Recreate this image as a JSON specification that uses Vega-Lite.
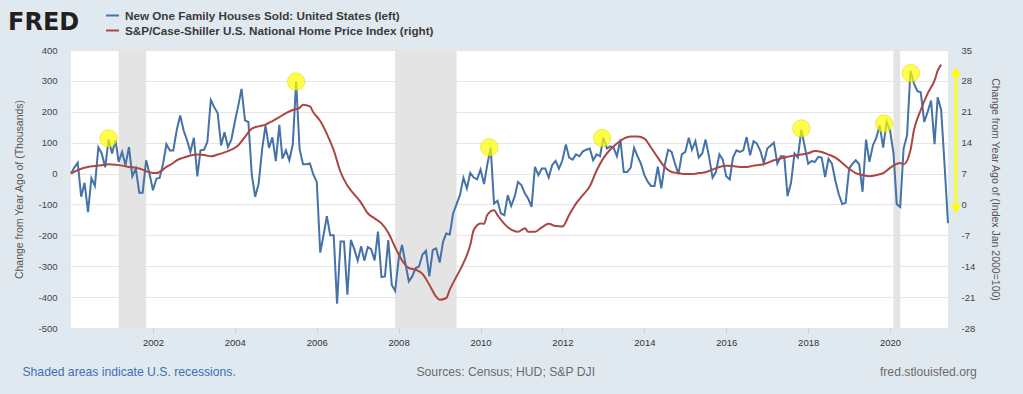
{
  "$schema": "https://vega.github.io/schema/vega-lite/v6.json",
  "width": 877,
  "height": 278,
  "autosize": {"type": "none"},
  "padding": {"left": 71, "top": 50, "right": 75, "bottom": 66},
  "background": "#e1e9f0",
  "config": {
    "font": "Liberation Sans",
    "view": {"fill": "#ffffff", "stroke": null}
  },
  "datasets": {
    "sold": [
      {"d":"2000-01-01","v":0},{"d":"2000-02-01","v":20},{"d":"2000-03-01","v":35},{"d":"2000-04-01","v":-75},{"d":"2000-05-01","v":-30},{"d":"2000-06-01","v":-125},{"d":"2000-07-01","v":-15},{"d":"2000-08-01","v":-40},{"d":"2000-09-01","v":85},{"d":"2000-10-01","v":65},{"d":"2000-11-01","v":20},{"d":"2000-12-01","v":110},
      {"d":"2001-01-01","v":65},{"d":"2001-02-01","v":108},{"d":"2001-03-01","v":38},{"d":"2001-04-01","v":70},{"d":"2001-05-01","v":27},{"d":"2001-06-01","v":86},{"d":"2001-07-01","v":-9},{"d":"2001-08-01","v":16},{"d":"2001-09-01","v":-62},{"d":"2001-10-01","v":-62},{"d":"2001-11-01","v":43},{"d":"2001-12-01","v":0},
      {"d":"2002-01-01","v":-54},{"d":"2002-02-01","v":-16},{"d":"2002-03-01","v":-14},{"d":"2002-04-01","v":32},{"d":"2002-05-01","v":95},{"d":"2002-06-01","v":75},{"d":"2002-07-01","v":75},{"d":"2002-08-01","v":140},{"d":"2002-09-01","v":188},{"d":"2002-10-01","v":140},{"d":"2002-11-01","v":108},{"d":"2002-12-01","v":70},
      {"d":"2003-01-01","v":116},{"d":"2003-02-01","v":-9},{"d":"2003-03-01","v":75},{"d":"2003-04-01","v":77},{"d":"2003-05-01","v":102},{"d":"2003-06-01","v":238},{"d":"2003-07-01","v":215},{"d":"2003-08-01","v":196},{"d":"2003-09-01","v":91},{"d":"2003-10-01","v":134},{"d":"2003-11-01","v":86},{"d":"2003-12-01","v":110},
      {"d":"2004-01-01","v":167},{"d":"2004-02-01","v":220},{"d":"2004-03-01","v":274},{"d":"2004-04-01","v":172},{"d":"2004-05-01","v":167},{"d":"2004-06-01","v":-5},{"d":"2004-07-01","v":-75},{"d":"2004-08-01","v":-32},{"d":"2004-09-01","v":80},{"d":"2004-10-01","v":156},{"d":"2004-11-01","v":83},{"d":"2004-12-01","v":117},
      {"d":"2005-01-01","v":40},{"d":"2005-02-01","v":158},{"d":"2005-03-01","v":48},{"d":"2005-04-01","v":75},{"d":"2005-05-01","v":43},{"d":"2005-06-01","v":94},{"d":"2005-07-01","v":297},{"d":"2005-08-01","v":78},{"d":"2005-09-01","v":30},{"d":"2005-10-01","v":30},{"d":"2005-11-01","v":33},{"d":"2005-12-01","v":-3},
      {"d":"2006-01-01","v":-27},{"d":"2006-02-01","v":-256},{"d":"2006-03-01","v":-202},{"d":"2006-04-01","v":-138},{"d":"2006-05-01","v":-200},{"d":"2006-06-01","v":-200},{"d":"2006-07-01","v":-421},{"d":"2006-08-01","v":-220},{"d":"2006-09-01","v":-220},{"d":"2006-10-01","v":-392},{"d":"2006-11-01","v":-215},{"d":"2006-12-01","v":-244},
      {"d":"2007-01-01","v":-282},{"d":"2007-02-01","v":-235},{"d":"2007-03-01","v":-282},{"d":"2007-04-01","v":-238},{"d":"2007-05-01","v":-245},{"d":"2007-06-01","v":-281},{"d":"2007-07-01","v":-188},{"d":"2007-08-01","v":-335},{"d":"2007-09-01","v":-333},{"d":"2007-10-01","v":-215},{"d":"2007-11-01","v":-361},{"d":"2007-12-01","v":-380},
      {"d":"2008-01-01","v":-278},{"d":"2008-02-01","v":-231},{"d":"2008-03-01","v":-290},{"d":"2008-04-01","v":-349},{"d":"2008-05-01","v":-333},{"d":"2008-06-01","v":-306},{"d":"2008-07-01","v":-301},{"d":"2008-08-01","v":-262},{"d":"2008-09-01","v":-250},{"d":"2008-10-01","v":-333},{"d":"2008-11-01","v":-247},{"d":"2008-12-01","v":-242},
      {"d":"2009-01-01","v":-288},{"d":"2009-02-01","v":-220},{"d":"2009-03-01","v":-194},{"d":"2009-04-01","v":-197},{"d":"2009-05-01","v":-129},{"d":"2009-06-01","v":-99},{"d":"2009-07-01","v":-70},{"d":"2009-08-01","v":-14},{"d":"2009-09-01","v":-48},{"d":"2009-10-01","v":2},{"d":"2009-11-01","v":-13},{"d":"2009-12-01","v":-19},
      {"d":"2010-01-01","v":13},{"d":"2010-02-01","v":-34},{"d":"2010-03-01","v":27},{"d":"2010-04-01","v":84},{"d":"2010-05-01","v":-97},{"d":"2010-06-01","v":-88},{"d":"2010-07-01","v":-129},{"d":"2010-08-01","v":-135},{"d":"2010-09-01","v":-70},{"d":"2010-10-01","v":-105},{"d":"2010-11-01","v":-75},{"d":"2010-12-01","v":-27},
      {"d":"2011-01-01","v":-38},{"d":"2011-02-01","v":-65},{"d":"2011-03-01","v":-81},{"d":"2011-04-01","v":-108},{"d":"2011-05-01","v":22},{"d":"2011-06-01","v":-5},{"d":"2011-07-01","v":16},{"d":"2011-08-01","v":16},{"d":"2011-09-01","v":-13},{"d":"2011-10-01","v":27},{"d":"2011-11-01","v":41},{"d":"2011-12-01","v":16},
      {"d":"2012-01-01","v":43},{"d":"2012-02-01","v":94},{"d":"2012-03-01","v":52},{"d":"2012-04-01","v":45},{"d":"2012-05-01","v":62},{"d":"2012-06-01","v":56},{"d":"2012-07-01","v":72},{"d":"2012-08-01","v":77},{"d":"2012-09-01","v":81},{"d":"2012-10-01","v":43},{"d":"2012-11-01","v":62},{"d":"2012-12-01","v":56},
      {"d":"2013-01-01","v":116},{"d":"2013-02-01","v":81},{"d":"2013-03-01","v":88},{"d":"2013-04-01","v":84},{"d":"2013-05-01","v":56},{"d":"2013-06-01","v":110},{"d":"2013-07-01","v":5},{"d":"2013-08-01","v":5},{"d":"2013-09-01","v":19},{"d":"2013-10-01","v":83},{"d":"2013-11-01","v":56},{"d":"2013-12-01","v":32},
      {"d":"2014-01-01","v":-5},{"d":"2014-02-01","v":-27},{"d":"2014-03-01","v":-40},{"d":"2014-04-01","v":-40},{"d":"2014-05-01","v":22},{"d":"2014-06-01","v":-48},{"d":"2014-07-01","v":27},{"d":"2014-08-01","v":77},{"d":"2014-09-01","v":70},{"d":"2014-10-01","v":32},{"d":"2014-11-01","v":-2},{"d":"2014-12-01","v":62},
      {"d":"2015-01-01","v":70},{"d":"2015-02-01","v":116},{"d":"2015-03-01","v":77},{"d":"2015-04-01","v":105},{"d":"2015-05-01","v":52},{"d":"2015-06-01","v":65},{"d":"2015-07-01","v":110},{"d":"2015-08-01","v":54},{"d":"2015-09-01","v":-13},{"d":"2015-10-01","v":5},{"d":"2015-11-01","v":62},{"d":"2015-12-01","v":45},
      {"d":"2016-01-01","v":-9},{"d":"2016-02-01","v":-19},{"d":"2016-03-01","v":52},{"d":"2016-04-01","v":75},{"d":"2016-05-01","v":70},{"d":"2016-06-01","v":75},{"d":"2016-07-01","v":118},{"d":"2016-08-01","v":59},{"d":"2016-09-01","v":105},{"d":"2016-10-01","v":97},{"d":"2016-11-01","v":73},{"d":"2016-12-01","v":34},
      {"d":"2017-01-01","v":81},{"d":"2017-02-01","v":91},{"d":"2017-03-01","v":100},{"d":"2017-04-01","v":32},{"d":"2017-05-01","v":56},{"d":"2017-06-01","v":56},{"d":"2017-07-01","v":-73},{"d":"2017-08-01","v":-30},{"d":"2017-09-01","v":65},{"d":"2017-10-01","v":52},{"d":"2017-11-01","v":142},{"d":"2017-12-01","v":88},
      {"d":"2018-01-01","v":32},{"d":"2018-02-01","v":41},{"d":"2018-03-01","v":37},{"d":"2018-04-01","v":54},{"d":"2018-05-01","v":52},{"d":"2018-06-01","v":-11},{"d":"2018-07-01","v":48},{"d":"2018-08-01","v":32},{"d":"2018-09-01","v":-24},{"d":"2018-10-01","v":-67},{"d":"2018-11-01","v":-99},{"d":"2018-12-01","v":-95},
      {"d":"2019-01-01","v":16},{"d":"2019-02-01","v":32},{"d":"2019-03-01","v":43},{"d":"2019-04-01","v":30},{"d":"2019-05-01","v":-59},{"d":"2019-06-01","v":110},{"d":"2019-07-01","v":38},{"d":"2019-08-01","v":91},{"d":"2019-09-01","v":116},{"d":"2019-10-01","v":156},{"d":"2019-11-01","v":84},{"d":"2019-12-01","v":167},
      {"d":"2020-01-01","v":140},{"d":"2020-02-01","v":65},{"d":"2020-03-01","v":-99},{"d":"2020-04-01","v":-108},{"d":"2020-05-01","v":81},{"d":"2020-06-01","v":124},{"d":"2020-07-01","v":333},{"d":"2020-08-01","v":292},{"d":"2020-09-01","v":267},{"d":"2020-10-01","v":263},{"d":"2020-11-01","v":167},{"d":"2020-12-01","v":199},
      {"d":"2021-01-01","v":236},{"d":"2021-02-01","v":95},{"d":"2021-03-01","v":247},{"d":"2021-04-01","v":206},{"d":"2021-05-01","v":30},{"d":"2021-06-01","v":-161}
    ],
    "hpi": [
      {"d":"2000-01-01","r":7.0},{"d":"2000-04-01","r":8.1},{"d":"2000-06-01","r":8.5},{"d":"2000-08-01","r":8.7},{"d":"2000-10-01","r":8.9},{"d":"2000-12-01","r":9.1},
      {"d":"2001-02-01","r":9.0},{"d":"2001-04-01","r":8.8},{"d":"2001-06-01","r":8.5},{"d":"2001-08-01","r":8.3},{"d":"2001-10-01","r":7.9},{"d":"2001-12-01","r":7.3},
      {"d":"2002-02-01","r":7.1},{"d":"2002-03-01","r":7.35},{"d":"2002-05-01","r":8.5},{"d":"2002-07-01","r":9.4},{"d":"2002-08-01","r":10.0},{"d":"2002-10-01","r":10.6},{"d":"2002-12-01","r":11.1},
      {"d":"2003-02-01","r":11.3},{"d":"2003-04-01","r":11.2},{"d":"2003-06-01","r":10.9},{"d":"2003-08-01","r":11.3},{"d":"2003-10-01","r":11.8},{"d":"2003-12-01","r":12.4},
      {"d":"2004-02-01","r":13.4},{"d":"2004-04-01","r":15.3},{"d":"2004-06-01","r":17.2},{"d":"2004-08-01","r":17.7},{"d":"2004-10-01","r":18.1},{"d":"2004-12-01","r":18.9},
      {"d":"2005-02-01","r":19.8},{"d":"2005-04-01","r":20.7},{"d":"2005-06-01","r":21.4},{"d":"2005-08-01","r":21.9},{"d":"2005-09-01","r":22.6},{"d":"2005-11-01","r":22.2},{"d":"2005-12-01","r":20.9},
      {"d":"2006-02-01","r":18.9},{"d":"2006-04-01","r":16.0},{"d":"2006-06-01","r":12.3},{"d":"2006-08-01","r":7.35},{"d":"2006-10-01","r":4.3},{"d":"2006-12-01","r":2.3},
      {"d":"2007-02-01","r":0.35},{"d":"2007-04-01","r":-2.0},{"d":"2007-06-01","r":-3.15},{"d":"2007-08-01","r":-4.3},{"d":"2007-10-01","r":-6.4},{"d":"2007-12-01","r":-9.7},
      {"d":"2008-02-01","r":-12.7},{"d":"2008-04-01","r":-14.4},{"d":"2008-06-01","r":-14.8},{"d":"2008-08-01","r":-15.75},{"d":"2008-10-01","r":-18.2},{"d":"2008-12-01","r":-20.9},
      {"d":"2009-01-01","r":-21.6},{"d":"2009-03-01","r":-21.2},{"d":"2009-04-01","r":-19.3},{"d":"2009-06-01","r":-16.3},{"d":"2009-08-01","r":-13.3},{"d":"2009-10-01","r":-9.2},{"d":"2009-11-01","r":-5.8},
      {"d":"2010-01-01","r":-4.3},{"d":"2010-02-01","r":-4.4},{"d":"2010-03-01","r":-2.4},{"d":"2010-05-01","r":-1.3},{"d":"2010-06-01","r":-2.4},{"d":"2010-08-01","r":-4.4},{"d":"2010-10-01","r":-5.7},{"d":"2010-12-01","r":-6.2},
      {"d":"2011-02-01","r":-5.4},{"d":"2011-03-01","r":-6.2},{"d":"2011-05-01","r":-6.2},{"d":"2011-07-01","r":-5.2},{"d":"2011-09-01","r":-4.4},{"d":"2011-11-01","r":-4.9},
      {"d":"2012-01-01","r":-5.0},{"d":"2012-03-01","r":-2.4},{"d":"2012-05-01","r":0.2},{"d":"2012-07-01","r":2.1},{"d":"2012-09-01","r":4.1},{"d":"2012-11-01","r":7.7},
      {"d":"2013-01-01","r":10.5},{"d":"2013-03-01","r":12.4},{"d":"2013-05-01","r":13.8},{"d":"2013-07-01","r":14.9},{"d":"2013-09-01","r":15.4},{"d":"2013-11-01","r":15.4},
      {"d":"2014-01-01","r":14.9},{"d":"2014-03-01","r":12.9},{"d":"2014-05-01","r":10.6},{"d":"2014-07-01","r":8.5},{"d":"2014-09-01","r":7.35},{"d":"2014-11-01","r":7.1},
      {"d":"2015-01-01","r":6.9},{"d":"2015-03-01","r":6.9},{"d":"2015-05-01","r":7.1},{"d":"2015-07-01","r":7.3},{"d":"2015-09-01","r":7.9},{"d":"2015-11-01","r":8.5},
      {"d":"2016-01-01","r":8.75},{"d":"2016-03-01","r":8.7},{"d":"2016-05-01","r":8.5},{"d":"2016-07-01","r":8.5},{"d":"2016-09-01","r":8.8},{"d":"2016-11-01","r":9.0},
      {"d":"2017-01-01","r":9.4},{"d":"2017-03-01","r":10.0},{"d":"2017-05-01","r":10.4},{"d":"2017-07-01","r":10.8},{"d":"2017-09-01","r":11.1},{"d":"2017-11-01","r":11.3},
      {"d":"2018-01-01","r":11.6},{"d":"2018-03-01","r":12.1},{"d":"2018-05-01","r":11.9},{"d":"2018-07-01","r":11.3},{"d":"2018-09-01","r":10.6},{"d":"2018-11-01","r":9.4},
      {"d":"2019-01-01","r":8.1},{"d":"2019-03-01","r":7.1},{"d":"2019-05-01","r":6.65},{"d":"2019-07-01","r":6.4},{"d":"2019-09-01","r":6.65},{"d":"2019-11-01","r":7.1},
      {"d":"2020-01-01","r":8.3},{"d":"2020-03-01","r":9.2},{"d":"2020-04-01","r":9.4},{"d":"2020-05-01","r":9.1},{"d":"2020-07-01","r":12.3},{"d":"2020-08-01","r":16.8},{"d":"2020-10-01","r":21.4},{"d":"2020-12-01","r":25.1},
      {"d":"2021-02-01","r":28.1},{"d":"2021-03-01","r":30.3},{"d":"2021-04-01","r":31.7}
    ],
    "recessions": [
      {"start":"2001-03-01","end":"2001-11-01"},
      {"start":"2007-12-01","end":"2009-06-01"},
      {"start":"2020-02-01","end":"2020-04-01"}
    ],
    "highlights": [
      {"d":"2000-12-01","v":114},
      {"d":"2005-07-01","v":298},
      {"d":"2010-03-20","v":85},
      {"d":"2012-12-20","v":115},
      {"d":"2017-11-01","v":146},
      {"d":"2019-11-10","v":162},
      {"d":"2020-07-05","v":325}
    ],
    "arrow": [
      {"d":"2021-08-10","top":330,"bottom":-115}
    ],
    "notes": [
      {"d":"1998-10-25","v":-642,"t":"Shaded areas indicate U.S. recessions."},
      {"d":"2008-06-08","v":-642,"t":"Sources: Census; HUD; S&P DJI"},
      {"d":"2022-02-13","v":-642,"t":"fred.stlouisfed.org"}
    ]
  },
  "layer": [
    {
      "layer": [
        {
          "data": {"name": "recessions"},
          "mark": {"type": "rect", "color": "#e4e4e4"},
          "encoding": {
            "x": {"field": "start", "type": "temporal", "title": null,
                  "scale": {"domain": [946684800000, 1622505600000]}},
            "x2": {"field": "end"}
          }
        },
        {
          "data": {"name": "sold"},
          "mark": {"type": "line", "strokeWidth": 2},
          "encoding": {
            "x": {"field": "d", "type": "temporal", "title": null,
                  "scale": {"domain": [946684800000, 1622505600000]},
                  "axis": {
                    "values": [1009843200000, 1072915200000, 1136073600000, 1199145600000, 1262304000000, 1325376000000, 1388534400000, 1451606400000, 1514764800000, 1577836800000],
                    "tickCount": 30,
                    "format": "%Y", "grid": false, "domain": false, "labelOverlap": false,
                    "tickColor": "#c5d2df", "tickSize": 5, "labelPadding": 4,
                    "labelFontSize": 9.5, "labelColor": "#333333", "title": null
                  }},
            "y": {"field": "v", "type": "quantitative",
                  "scale": {"domain": [-500, 400], "nice": false, "zero": false},
                  "axis": {
                    "title": "Change from Year Ago of (Thousands)",
                    "values": [-500,-400,-300,-200,-100,0,100,200,300,400],
                    "tickCount": 20,
                    "labelExpr": "replace(datum.label, '\u2212', '-')",
                    "labelOverlap": false,
                    "grid": true, "gridColor": "#e6e6e6", "domain": false, "ticks": false,
                    "labelPadding": 14, "labelFontSize": 9.5, "labelColor": "#444444",
                    "titleFontSize": 10.5, "titleFontWeight": "normal", "titleColor": "#555555", "titlePadding": 13
                  }},
            "color": {"datum": "New One Family Houses Sold: United States (left)",
                      "scale": {"domain": ["New One Family Houses Sold: United States (left)", "S&P/Case-Shiller U.S. National Home Price Index (right)"],
                                "range": ["#4572a7", "#aa4643"]},
                      "legend": {
                        "title": "FRED", "orient": "none", "legendX": -63, "legendY": -42,
                        "direction": "vertical", "titleOrient": "left",
                        "titleFont": "DejaVu Sans", "titleFontSize": 24, "titleFontWeight": "bold", "titleColor": "#231f20", "titlePadding": 25,
                        "symbolType": "stroke", "symbolSize": 169, "symbolStrokeWidth": 2,
                        "labelFontSize": 11.7, "labelFontWeight": "bold", "labelColor": "#3a3a3a", "labelOffset": 5, "labelLimit": 500,
                        "rowPadding": 0, "padding": 0
                      }}
          }
        },
        {
          "data": {"name": "highlights"},
          "mark": {"type": "point", "shape": "circle", "filled": true, "color": "#ffff00", "opacity": 0.7, "size": 300, "stroke": "#e8e000", "strokeWidth": 1},
          "encoding": {
            "x": {"field": "d", "type": "temporal", "title": null},
            "y": {"field": "v", "type": "quantitative"}
          }
        },
        {
          "data": {"name": "arrow"},
          "mark": {"type": "rule", "color": "#ffff00", "strokeWidth": 2.5, "clip": false},
          "encoding": {
            "x": {"field": "d", "type": "temporal", "title": null},
            "y": {"field": "top", "type": "quantitative"},
            "y2": {"field": "bottom"}
          }
        },
        {
          "data": {"name": "arrow"},
          "mark": {"type": "point", "shape": "triangle-up", "filled": true, "color": "#ffff00", "opacity": 1, "size": 100, "clip": false},
          "encoding": {
            "x": {"field": "d", "type": "temporal", "title": null},
            "y": {"field": "top", "type": "quantitative"}
          }
        },
        {
          "data": {"name": "arrow"},
          "mark": {"type": "point", "shape": "triangle-down", "filled": true, "color": "#ffff00", "opacity": 1, "size": 100, "clip": false},
          "encoding": {
            "x": {"field": "d", "type": "temporal", "title": null},
            "y": {"field": "bottom", "type": "quantitative"}
          }
        },
        {
          "data": {"name": "notes"},
          "transform": [{"filter": "datum.t == 'Shaded areas indicate U.S. recessions.'"}],
          "mark": {"type": "text", "align": "left", "baseline": "middle", "fontSize": 12.2, "color": "#3d6fb3", "clip": false},
          "encoding": {
            "x": {"field": "d", "type": "temporal", "title": null},
            "y": {"field": "v", "type": "quantitative"},
            "text": {"field": "t"}
          }
        },
        {
          "data": {"name": "notes"},
          "transform": [{"filter": "datum.t == 'Sources: Census; HUD; S&P DJI'"}],
          "mark": {"type": "text", "align": "left", "baseline": "middle", "fontSize": 12.2, "color": "#6b6b6b", "clip": false},
          "encoding": {
            "x": {"field": "d", "type": "temporal", "title": null},
            "y": {"field": "v", "type": "quantitative"},
            "text": {"field": "t"}
          }
        },
        {
          "data": {"name": "notes"},
          "transform": [{"filter": "datum.t == 'fred.stlouisfed.org'"}],
          "mark": {"type": "text", "align": "right", "baseline": "middle", "fontSize": 12.2, "color": "#6b6b6b", "clip": false},
          "encoding": {
            "x": {"field": "d", "type": "temporal", "title": null},
            "y": {"field": "v", "type": "quantitative"},
            "text": {"field": "t"}
          }
        }
      ]
    },
    {
      "layer": [
        {
          "data": {"name": "hpi"},
          "mark": {"type": "line", "strokeWidth": 2, "interpolate": "monotone"},
          "encoding": {
            "x": {"field": "d", "type": "temporal", "title": null},
            "y": {"field": "r", "type": "quantitative",
                  "scale": {"domain": [-28, 35], "nice": false, "zero": false},
                  "axis": {
                    "orient": "right",
                    "title": "Change from Year Ago of (Index Jan 2000=100)",
                    "values": [-28,-21,-14,-7,0,7,14,21,28,35],
                    "tickCount": 20,
                    "labelExpr": "replace(datum.label, '\u2212', '-')",
                    "labelOverlap": false,
                    "grid": false, "domain": false, "ticks": false,
                    "labelPadding": 13, "labelFontSize": 9.5, "labelColor": "#444444",
                    "titleFontSize": 10.5, "titleFontWeight": "normal", "titleColor": "#555555", "titlePadding": 15
                  }},
            "color": {"datum": "S&P/Case-Shiller U.S. National Home Price Index (right)"}
          }
        },
        {
          "mark": {"type": "rule", "color": "#000000", "strokeWidth": 1.5},
          "encoding": {
            "y": {"datum": 7, "type": "quantitative"}
          }
        }
      ]
    }
  ],
  "resolve": {"scale": {"y": "independent"}}
}
